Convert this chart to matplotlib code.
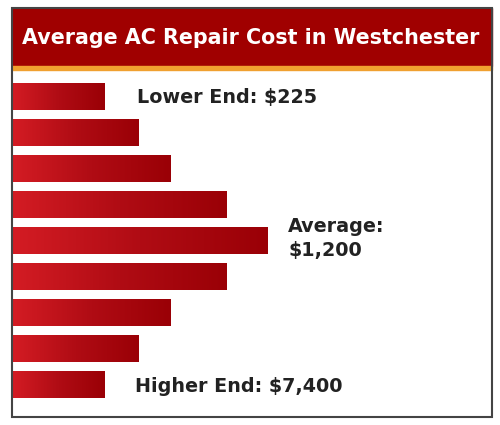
import matplotlib.pyplot as plt
import numpy as np
from matplotlib.colors import LinearSegmentedColormap
from matplotlib.patches import Rectangle

# bar lengths (relative)
bar_lengths = [93, 127, 159, 215, 256, 215, 159, 127, 93]
title = "Average AC Repair Cost in Westchester"
low_label = "Lower End: $225"
avg_label = "Average:\n$1,200"
high_label = "Higher End: $7,400"

W, H = 500, 425
fig = plt.figure(figsize=(W / 100, H / 100), dpi=100)
fig.patch.set_facecolor("white")


def fx(px):
    return px / W


def fy(py):
    return 1 - py / H


# title band, orange strip and outer frame
fig.patches.append(Rectangle((fx(12), fy(66)), fx(480), 58 / H,
                             transform=fig.transFigure, color="#a00000", zorder=1))
fig.patches.append(Rectangle((fx(12), fy(70)), fx(480), 4 / H,
                             transform=fig.transFigure, color="#f0a030", zorder=1))
fig.patches.append(Rectangle((fx(12), fy(417)), fx(480), 409 / H,
                             transform=fig.transFigure, fill=False,
                             edgecolor="#444444", linewidth=1.5, zorder=3))

fig.text(fx(251), fy(37.5), title, color="white", fontsize=14.9, fontweight="bold",
         family="DejaVu Sans", ha="center", va="center")

# bars
ax = fig.add_axes([fx(12), fy(403), fx(480), 324 / H])
ax.axis("off")

cmap = LinearSegmentedColormap.from_list("red", ["#d41c24", "#b00c14", "#9a0006"])
grad = np.linspace(0, 1, 256).reshape(1, -1)
bars = ax.barh(range(len(bar_lengths)), bar_lengths, height=0.74, color="none")
for b in bars:
    x0, y0, w, h = b.get_x(), b.get_y(), b.get_width(), b.get_height()
    ax.imshow(grad, cmap=cmap, aspect="auto", extent=(x0, x0 + w, y0 + h, y0),
              zorder=2)
ax.set_xlim(0, 480)
ax.set_ylim(len(bar_lengths) - 0.5, -0.5)

txt = dict(color="#222222", fontsize=13.8, fontweight="bold", family="DejaVu Sans",
           va="center", ha="left")
fig.text(fx(137), fy(98), low_label, **txt)
fig.text(fx(135), fy(387), high_label, **txt)
fig.text(fx(288), fy(238.5), avg_label, linespacing=1.3, **txt)

fig.savefig("out.png", dpi=100)
